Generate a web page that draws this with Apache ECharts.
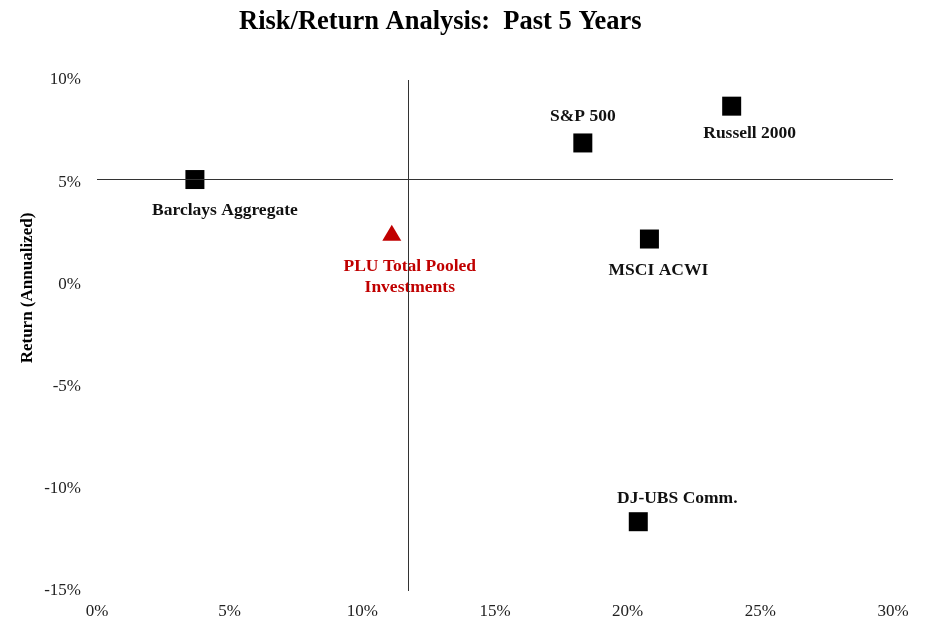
<!DOCTYPE html>
<html><head><meta charset="utf-8">
<script src="https://cdn.jsdelivr.net/npm/echarts@6/dist/echarts.min.js"></script>
<style>html,body{margin:0;padding:0;background:#fff}#c{width:928px;height:623px}</style>
</head><body><div id="c"></div>
<script>
// Data
const names = ['Barclays Aggregate', 'PLU Total Pooled\nInvestments', 'S&P 500', 'Russell 2000', 'MSCI ACWI', 'DJ-UBS Comm.'];
const risk = [3.69, 11.11, 18.31, 23.92, 20.82, 20.40];      // std dev (%)
const ret = [5.13, 2.53, 6.92, 8.72, 2.22, -11.61];          // annualized return (%)
const refRisk = 11.72;   // vertical reference line
const refReturn = 5.13;  // horizontal reference line
const xTicks = [0, 5, 10, 15, 20, 25, 30];
const yTicks = [-15, -10, -5, 0, 5, 10];

// Styles (label offsets etc.)
const labelOffsets = [[30, 31], [18, 44], [0, -26], [18, 27], [9, 31], [39, -23]];
const FONT = '"Liberation Serif", "DejaVu Serif", serif';

const chart = echarts.init(document.getElementById('c'), null, {renderer: 'canvas'});
const pts = names.map((n, i) => {
  const isPLU = i === 1;
  return {
    name: n,
    value: [risk[i], ret[i]],
    symbol: isPLU ? 'triangle' : 'rect',
    symbolSize: isPLU ? [19, 16] : 19,
    itemStyle: {color: isPLU ? '#c00000' : '#000', opacity: 1},
    label: {
      show: true, formatter: n, position: 'inside', offset: labelOffsets[i],
      align: 'center', verticalAlign: 'middle',
      color: isPLU ? '#c00000' : '#111', fontFamily: FONT, fontWeight: 'bold', fontSize: 17.5, lineHeight: 21
    }
  };
});

chart.setOption({
  animation: false,
  title: {text: 'Risk/Return Analysis:  Past 5 Years', left: 234, top: 4,
    textStyle: {fontFamily: FONT, fontWeight: 'bold', fontSize: 26.5, color: '#000'}},
  grid: {left: 97, right: 35, top: 80, bottom: 32},
  xAxis: {type: 'value', min: xTicks[0], max: xTicks[xTicks.length - 1], interval: 5,
    axisLine: {show: false}, axisTick: {show: false}, splitLine: {show: false},
    axisLabel: {formatter: v => v + '%', fontFamily: FONT, fontSize: 17, color: '#222', margin: 12}},
  yAxis: {type: 'value', min: yTicks[0], max: yTicks[yTicks.length - 1], interval: 5,
    axisLine: {show: false}, axisTick: {show: false}, splitLine: {show: false},
    axisLabel: {formatter: v => v + '%', fontFamily: FONT, fontSize: 17, color: '#222', margin: 16}},
  graphic: [{type: 'text', x: 28, y: 288, rotation: Math.PI / 2,
    style: {x: 0, y: 0, text: 'Return (Annualized)', font: 'bold 17px ' + FONT, fill: '#000',
      align: 'center', verticalAlign: 'middle'}}],
  series: [{
    type: 'scatter', data: pts, z: 3,
    markLine: {silent: true, symbol: 'none', animation: false,
      lineStyle: {color: '#333', width: 1, type: 'solid'}, label: {show: false},
      data: [{xAxis: refRisk}, {yAxis: refReturn}]}
  }]
});
</script></body></html>
